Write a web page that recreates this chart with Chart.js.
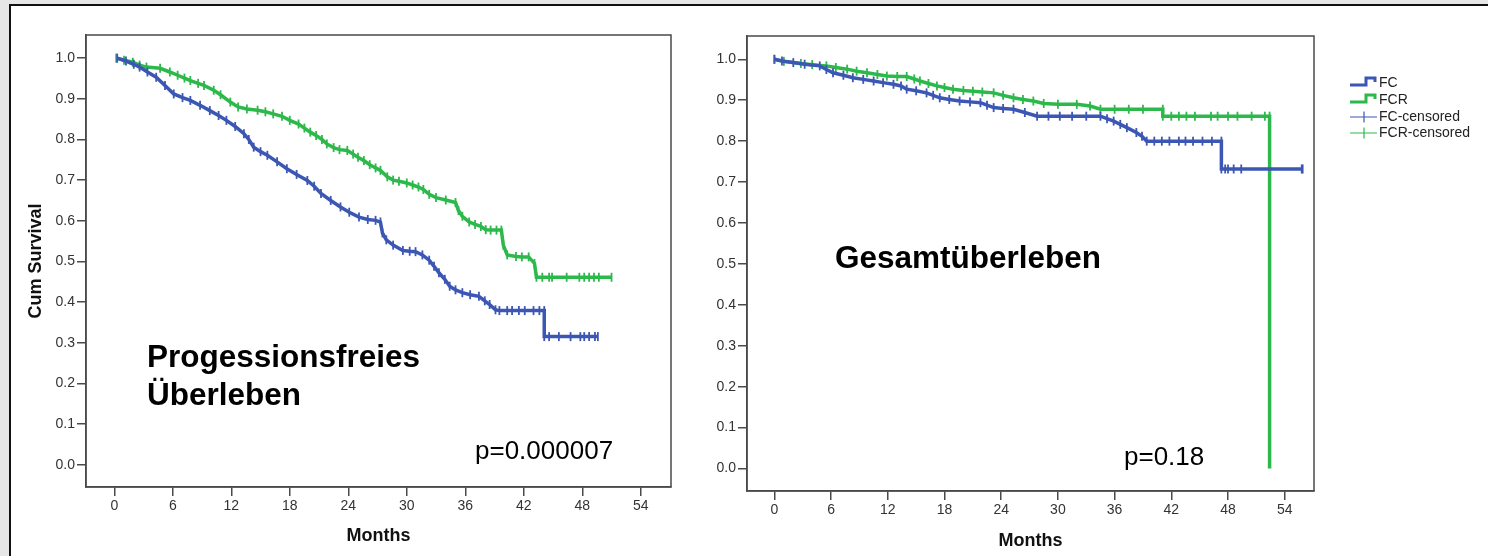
<!DOCTYPE html>
<html>
<head>
<meta charset="utf-8">
<script src="https://cdn.jsdelivr.net/npm/chart.js@4.4.1/dist/chart.umd.min.js"></script>
<style>
html, body { margin: 0; padding: 0; width: 1488px; height: 556px; overflow: hidden; background: #e6e6e6; }
#panel { position: absolute; left: 9px; top: 4px; width: 1479px; height: 552px; background: #fff;
         border-top: 2px solid #111; border-left: 2px solid #111; }
#c1 { position: absolute; left: 0; top: 0; width: 700px; height: 556px; }
#c2 { position: absolute; left: 700px; top: 0; width: 788px; height: 556px; }
</style>
</head>
<body>
<div id="panel"></div>
<canvas id="c1" width="700" height="556"></canvas>
<canvas id="c2" width="788" height="556"></canvas>
<script>
// Progressionsfreies Ueberleben (PFS) - FC
const pfsFcMonths = [0.3, 1.2, 2.0, 2.6, 3.4, 4.3, 5.2, 6.1, 7.0, 7.8,
  8.8, 9.8, 10.7, 11.5, 12.4, 13.3, 13.8, 14.3, 15.0, 15.7,
  16.7, 17.7, 18.7, 19.8, 20.5, 21.2, 22.2, 23.2, 24.1, 25.1,
  26.0, 26.8, 27.3, 27.5, 27.9, 28.6, 29.6, 30.3, 30.9, 31.6,
  32.3, 32.8, 33.3, 33.9, 34.4, 35.0, 35.7, 36.5, 37.4, 38.0,
  38.5, 39.1, 39.5, 40.3, 40.8, 41.5, 42.1, 43.0, 43.6, 44.1,
  44.1, 44.6, 45.6, 46.8, 47.8, 48.2, 48.7, 49.3, 49.6];
const pfsFcSurv = [1.000, 0.993, 0.985, 0.978, 0.966, 0.953, 0.933, 0.912, 0.903, 0.896,
  0.884, 0.871, 0.859, 0.847, 0.832, 0.814, 0.800, 0.781, 0.770, 0.761,
  0.745, 0.728, 0.714, 0.699, 0.685, 0.667, 0.650, 0.634, 0.621, 0.609,
  0.603, 0.601, 0.597, 0.570, 0.553, 0.540, 0.527, 0.525, 0.524, 0.516,
  0.503, 0.488, 0.472, 0.456, 0.439, 0.430, 0.423, 0.418, 0.414, 0.403,
  0.394, 0.381, 0.379, 0.379, 0.379, 0.379, 0.379, 0.379, 0.379, 0.379,
  0.315, 0.315, 0.315, 0.315, 0.315, 0.315, 0.315, 0.315, 0.315];

// PFS - FCR
const pfsFcrMonths = [0.2, 1.0, 1.9, 2.6, 3.3, 4.7, 5.7, 6.5, 7.2, 7.8,
  8.6, 9.2, 10.2, 10.9, 11.9, 12.7, 13.6, 14.7, 15.5, 16.3,
  17.2, 18.0, 18.9, 19.5, 20.1, 20.7, 21.3, 21.8, 22.5, 23.1,
  23.9, 24.5, 25.0, 25.6, 26.2, 26.8, 27.3, 28.0, 28.6, 29.2,
  30.0, 30.6, 31.2, 31.7, 32.3, 33.0, 34.0, 35.0, 35.3, 35.7,
  36.4, 37.0, 37.6, 38.1, 38.6, 39.2, 39.7, 39.9, 40.3, 41.2,
  41.8, 42.5, 43.1, 43.3, 43.9, 44.6, 44.9, 46.4, 47.7, 48.2,
  48.7, 49.2, 49.7, 51.0];
const pfsFcrSurv = [1.000, 0.995, 0.990, 0.983, 0.978, 0.975, 0.966, 0.958, 0.951, 0.945,
  0.938, 0.933, 0.921, 0.910, 0.892, 0.880, 0.875, 0.872, 0.868, 0.863,
  0.857, 0.847, 0.838, 0.828, 0.818, 0.810, 0.800, 0.789, 0.780, 0.775,
  0.773, 0.764, 0.756, 0.748, 0.738, 0.730, 0.724, 0.708, 0.700, 0.697,
  0.693, 0.688, 0.683, 0.677, 0.665, 0.657, 0.651, 0.645, 0.625, 0.611,
  0.597, 0.591, 0.586, 0.578, 0.577, 0.577, 0.577, 0.540, 0.516, 0.512,
  0.511, 0.511, 0.495, 0.461, 0.461, 0.461, 0.461, 0.461, 0.461, 0.461,
  0.461, 0.461, 0.461, 0.461];

// Gesamtueberleben (OS) - FC
const osFcMonths = [0.0, 0.8, 2.0, 3.2, 4.8, 5.5, 6.2, 7.3, 8.3, 9.4,
  10.5, 11.5, 12.6, 13.4, 14.0, 15.0, 16.1, 16.8, 17.5, 18.5,
  19.6, 20.7, 21.8, 22.5, 23.2, 24.2, 25.3, 26.5, 27.8, 29.0,
  30.2, 31.5, 33.0, 34.5, 35.2, 35.9, 36.6, 37.3, 38.3, 38.9,
  39.4, 40.2, 41.0, 41.8, 42.8, 43.5, 44.3, 45.3, 46.3, 47.3,
  47.3, 47.7, 48.0, 48.6, 49.4, 55.8, 55.9];
const osFcSurv = [1.000, 0.996, 0.992, 0.988, 0.984, 0.975, 0.967, 0.961, 0.955, 0.951,
  0.947, 0.943, 0.939, 0.935, 0.927, 0.923, 0.918, 0.912, 0.906, 0.902,
  0.898, 0.896, 0.894, 0.888, 0.882, 0.880, 0.878, 0.870, 0.861, 0.861,
  0.861, 0.861, 0.861, 0.861, 0.855, 0.849, 0.841, 0.833, 0.821, 0.812,
  0.800, 0.800, 0.800, 0.800, 0.800, 0.800, 0.800, 0.800, 0.800, 0.800,
  0.732, 0.732, 0.732, 0.732, 0.732, 0.732, 0.732];

// OS - FCR
const osFcrMonths = [0.0, 1.0, 2.8, 4.0, 5.5, 6.5, 7.7, 8.7, 9.8, 10.9,
  11.9, 13.0, 14.0, 14.8, 15.4, 16.3, 17.2, 18.0, 18.9, 20.0,
  21.0, 22.0, 23.2, 24.2, 25.3, 26.3, 27.4, 28.5, 30.0, 32.0,
  33.4, 34.5, 36.0, 37.5, 39.0, 41.1, 41.1, 42.0, 42.8, 43.6,
  44.5, 46.2, 46.9, 48.0, 49.0, 50.5, 51.9, 52.4, 52.4];
const osFcrSurv = [1.000, 0.995, 0.990, 0.987, 0.984, 0.980, 0.976, 0.971, 0.967, 0.963,
  0.959, 0.958, 0.958, 0.952, 0.947, 0.941, 0.935, 0.931, 0.927, 0.924,
  0.922, 0.920, 0.918, 0.912, 0.906, 0.902, 0.898, 0.892, 0.890, 0.890,
  0.886, 0.878, 0.878, 0.878, 0.878, 0.878, 0.861, 0.861, 0.861, 0.861,
  0.861, 0.861, 0.861, 0.861, 0.861, 0.861, 0.861, 0.861, 0.000];

const monthTicks = [0, 6, 12, 18, 24, 30, 36, 42, 48, 54];
const survTicks = [0.0, 0.1, 0.2, 0.3, 0.4, 0.5, 0.6, 0.7, 0.8, 0.9, 1.0];
const legendLabels = ["FC", "FCR", "FC-censored", "FCR-censored"];

const FONT = "'Liberation Sans', Arial, sans-serif";
const BLUE = "#3c57b3";
const GREEN = "#2db84b";
const AXIS = "#4a4a4a";

function kmDataset(label, months, surv, color) {
    return {
        label: label,
        data: months.map((m, i) => ({ x: m, y: surv[i] })),
        tension: 0,
        borderColor: color,
        borderWidth: 3.5,
        pointStyle: "line",
        rotation: 90,
        pointRadius: ctx => (ctx.raw && ctx.raw.y === 0 ? 0 : 4.5),
        pointBorderColor: color,
        pointBorderWidth: 1.8,
        fill: false
    };
}

// Rahmen um die Plotflaeche und freie Texte
const extrasPlugin = {
    id: "extras",
    afterDraw(chart, args, opts) {
        const ctx = chart.ctx;
        const a = chart.chartArea;
        ctx.save();
        ctx.strokeStyle = AXIS;
        ctx.lineWidth = 1.5;
        ctx.strokeRect(a.left, a.top, a.right - a.left, a.bottom - a.top);
        ctx.fillStyle = "#000";
        ctx.textBaseline = "alphabetic";
        (opts.texts || []).forEach(t => {
            ctx.font = t.font;
            ctx.fillText(t.text, t.x, t.y);
        });
        ctx.restore();
    }
};

// Legende rechts (nur zweites Diagramm)
const legendPlugin = {
    id: "kmLegend",
    afterDraw(chart, args, opts) {
        if (!opts.show) return;
        const ctx = chart.ctx;
        const colors = [BLUE, GREEN, BLUE, GREEN];
        const ys = [83, 100, 117, 133];
        ctx.save();
        legendLabels.forEach((lab, i) => {
            const y = ys[i];
            ctx.strokeStyle = colors[i];
            ctx.beginPath();
            if (i < 2) {
                ctx.lineWidth = 3;
                ctx.moveTo(650, y + 2);
                ctx.lineTo(666, y + 2);
                ctx.lineTo(666, y - 5);
                ctx.lineTo(675, y - 5);
                ctx.lineTo(675, y - 1);
            } else {
                ctx.lineWidth = 1.2;
                ctx.moveTo(650, y);
                ctx.lineTo(677, y);
                ctx.moveTo(664, y - 5.5);
                ctx.lineTo(664, y + 5.5);
            }
            ctx.stroke();
            ctx.fillStyle = "#222";
            ctx.font = "14px " + FONT;
            ctx.textBaseline = "middle";
            ctx.fillText(lab, 679, y);
        });
        ctx.restore();
    }
};

function makeChart(canvasId, cfg) {
    return new Chart(document.getElementById(canvasId), {
        type: "line",
        data: { datasets: cfg.datasets },
        options: {
            responsive: false,
            animation: false,
            events: [],
            layout: { padding: cfg.padding },
            plugins: {
                legend: { display: false },
                tooltip: { enabled: false },
                extras: { texts: cfg.texts },
                kmLegend: { show: cfg.legend }
            },
            scales: {
                x: {
                    type: "linear",
                    min: -2.9,
                    max: 57.1,
                    afterBuildTicks: s => { s.ticks = monthTicks.map(v => ({ value: v })); },
                    afterFit: s => { s.height = cfg.xHeight; },
                    grid: { drawOnChartArea: false, drawTicks: true, tickLength: 9, color: AXIS, lineWidth: 1.5 },
                    border: { display: true, color: AXIS, width: 1.5 },
                    ticks: { font: { family: FONT, size: 14 }, color: "#333", padding: 2, maxRotation: 0, autoSkip: false },
                    title: { display: true, text: "Months", color: "#111",
                             font: { family: FONT, size: 18, weight: "bold" },
                             padding: { top: 0, bottom: cfg.xTitlePad } }
                },
                y: {
                    type: "linear",
                    min: -0.055,
                    max: 1.057,
                    afterBuildTicks: s => { s.ticks = survTicks.map(v => ({ value: v })); },
                    afterFit: s => { s.width = cfg.yWidth; },
                    grid: { drawOnChartArea: false, drawTicks: true, tickLength: 9, color: AXIS, lineWidth: 1.5 },
                    border: { display: true, color: AXIS, width: 1.5 },
                    ticks: { font: { family: FONT, size: 14 }, color: "#333", padding: 2,
                             callback: v => v.toFixed(1) },
                    title: { display: cfg.yTitle, text: "Cum Survival", color: "#111",
                             font: { family: FONT, size: 18, weight: "bold" },
                             padding: { top: 25, bottom: 0 } }
                }
            }
        },
        plugins: [extrasPlugin, legendPlugin]
    });
}

makeChart("c1", {
    datasets: [
        kmDataset("FC", pfsFcMonths, pfsFcSurv, BLUE),
        kmDataset("FCR", pfsFcrMonths, pfsFcrSurv, GREEN)
    ],
    padding: { left: 0, top: 35, right: 29, bottom: 0 },
    yWidth: 86,
    xHeight: 69,
    xTitlePad: 9,
    yTitle: true,
    legend: false,
    texts: [
        { text: "Progessionsfreies", x: 147, y: 367, font: "bold 31.5px " + FONT },
        { text: "Überleben", x: 147, y: 405, font: "bold 31.5px " + FONT },
        { text: "p=0.000007", x: 475, y: 459, font: "26px " + FONT }
    ]
});

makeChart("c2", {
    datasets: [
        kmDataset("FC", osFcMonths, osFcSurv, BLUE),
        kmDataset("FCR", osFcrMonths, osFcrSurv, GREEN)
    ],
    padding: { left: 0, top: 36, right: 174, bottom: 0 },
    yWidth: 47,
    xHeight: 65,
    xTitlePad: 4,
    yTitle: false,
    legend: true,
    texts: [
        { text: "Gesamtüberleben", x: 135, y: 268, font: "bold 31.5px " + FONT },
        { text: "p=0.18", x: 424, y: 465, font: "26px " + FONT }
    ]
});
</script>
</body>
</html>
